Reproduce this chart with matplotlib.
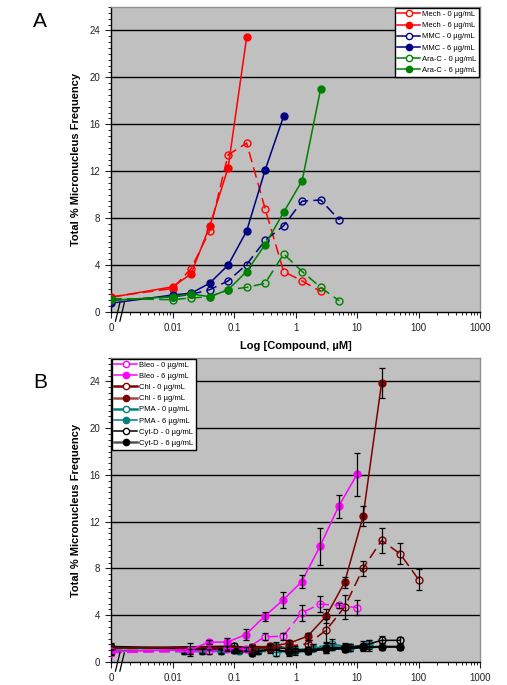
import numpy as np
import matplotlib
matplotlib.use("Agg")
import matplotlib.pyplot as plt
from matplotlib.lines import Line2D
from matplotlib.ticker import FixedLocator, LogLocator, NullFormatter, MultipleLocator

plt.rcParams['font.family'] = ['Liberation Sans', 'DejaVu Sans']

# ---------------- Panel A data ----------------
conc_a = [0, 0.01, 0.02, 0.04, 0.08, 0.16, 0.32, 0.64, 1.28, 2.56, 5.12]
mech_0 = [1.3, 2.0, 3.7, 6.9, 13.4, 14.4, 8.8, 3.45, 2.65, 1.75]
mech_6 = [1.25, 2.15, 3.25, 7.3, 12.3, 23.4]
mmc_0 = [1.0, 1.3, 1.5, 1.9, 2.65, 4.05, 6.1, 7.35, 9.45, 9.55, 7.85]
mmc_6 = [0.75, 1.45, 1.6, 2.45, 4.0, 6.9, 12.1, 16.7]
arac_0 = [1.15, 1.05, 1.2, 1.3, 1.9, 2.1, 2.45, 4.95, 3.45, 2.1, 0.95]
arac_6 = [1.0, 1.3, 1.55, 1.3, 1.9, 3.45, 5.75, 8.5, 11.2, 19.05]

# ---------------- Panel B data ----------------
conc_bleo = [0, 0.0195, 0.039, 0.078, 0.156, 0.3125, 0.625, 1.25, 2.5, 5, 10]
bleo_0 = [0.8, 0.9, 0.9, 1.15, 1.1, 2.15, 2.2, 4.2, 4.95, 4.85, 4.65]
bleo_0_err = [0.2, 0.2, 0.2, 0.2, 0.2, 0.3, 0.3, 0.7, 0.7, 0.2, 0.65]
bleo_6 = [0.9, 1.05, 1.7, 1.7, 2.35, 3.9, 5.3, 6.85, 9.9, 13.3, 16.05]
bleo_6_err = [0.2, 0.55, 0.2, 0.35, 0.45, 0.4, 0.65, 0.55, 1.6, 1.0, 1.85]

conc_chl = [0, 0.195, 0.39, 0.78, 1.5625, 3.125, 6.25, 12.5, 25, 50, 100]
chl_0 = [1.15, 1.2, 1.2, 1.35, 1.55, 2.7, 4.7, 8.0, 10.4, 9.25, 7.05]
chl_0_err = [0.15, 0.2, 0.2, 0.2, 0.3, 1.0, 1.0, 0.65, 1.05, 0.9, 0.9]
chl_6 = [1.2, 1.25, 1.35, 1.6, 2.2, 3.9, 6.8, 12.45, 23.85]
chl_6_err = [0.15, 0.2, 0.2, 0.3, 0.3, 0.6, 0.5, 0.85, 1.3]

conc_pma = [0, 0.0153, 0.0305, 0.061, 0.122, 0.244, 0.488, 0.977, 1.95, 3.9, 7.8, 15.6]
pma_0 = [0.9, 0.9, 0.9, 0.9, 0.95, 0.95, 0.8, 0.9, 1.2, 1.55, 1.25, 1.5]
pma_0_err = [0.2, 0.2, 0.2, 0.2, 0.2, 0.3, 0.3, 0.3, 0.3, 0.4, 0.3, 0.4]
pma_6 = [1.0, 1.0, 1.0, 1.0, 1.0, 1.05, 1.4, 1.05, 1.2, 1.3, 1.2, 1.4]
pma_6_err = [0.2, 0.2, 0.2, 0.2, 0.2, 0.3, 0.3, 0.3, 0.3, 0.3, 0.3, 0.5]

conc_cyt = [0, 0.098, 0.195, 0.39, 0.78, 1.5625, 3.125, 6.25, 12.5, 25, 50]
cyt_0 = [1.2, 1.35, 1.2, 1.3, 1.1, 1.0, 1.2, 1.25, 1.4, 1.85, 1.85]
cyt_0_err = [0.3, 0.3, 0.3, 0.3, 0.3, 0.3, 0.4, 0.4, 0.4, 0.4, 0.3]
cyt_6 = [1.3, 1.05, 0.8, 1.1, 0.85, 0.95, 1.1, 1.15, 1.25, 1.3, 1.3]
cyt_6_err = [0.3, 0.3, 0.3, 0.3, 0.3, 0.3, 0.3, 0.3, 0.3, 0.3, 0.3]

x_ticks = [0.001, 0.01, 0.1, 1, 10, 100, 1000]
x_tick_labels = ['0', '0.01', '0.1', '1', '10', '100', '1000']
y_ticks = [0, 4, 8, 12, 16, 20, 24]

ZERO_POS = 0.001


def xs(conc, n):
    return [ZERO_POS if c == 0 else c for c in conc[:n]]


RED = '#FF0000'
NAVY = '#000080'
GREEN = '#008000'
MAG = '#FF00FF'
MAROON = '#800000'
TEAL = '#008080'
BLACK = '#000000'
DASH = (0, (7, 3.5))


def style_axes(ax, xlabel=True):
    ax.set_facecolor('#C0C0C0')
    ax.set_xscale('log')
    ax.set_xlim(0.001, 1000)
    ax.set_ylim(0, 26)
    ax.xaxis.set_major_locator(FixedLocator(x_ticks))
    ax.set_xticklabels(x_tick_labels)
    ax.xaxis.set_minor_locator(LogLocator(base=10, subs=np.arange(2, 10), numticks=30))
    ax.xaxis.set_minor_formatter(NullFormatter())
    ax.yaxis.set_major_locator(FixedLocator(y_ticks))
    ax.yaxis.set_minor_locator(MultipleLocator(0.5))
    ax.tick_params(axis='both', which='major', labelsize=7, colors='#222222',
                   direction='out', length=4, width=0.8, pad=4)
    ax.tick_params(axis='both', which='minor', direction='out', length=2, width=0.6)
    for yv in y_ticks[1:]:
        ax.axhline(yv, color='black', lw=1.0, zorder=1)
    ax.spines['left'].set_color('black')
    ax.spines['bottom'].set_color('black')
    ax.spines['top'].set_color('#909090')
    ax.spines['right'].set_color('#909090')
    for s in ax.spines.values():
        s.set_linewidth(1.0)
    ax.set_ylabel('Total % Micronucleus Frequency', fontsize=8, fontweight='bold', labelpad=6)
    if xlabel:
        ax.set_xlabel('Log [Compound, \u00b5M]', fontsize=8, fontweight='bold', labelpad=6)
    # axis break marks
    for dx in (0.018, 0.030):
        ax.plot([dx - 0.006, dx + 0.006], [-0.03, 0.03], transform=ax.transAxes,
                color='black', lw=0.9, clip_on=False, zorder=6)


def line(ax, conc, vals, color, filled, dashed, err=None, lw=1.1, ms=5, z=3):
    x = xs(conc, len(vals))
    ax.plot(x, vals, color=color, lw=lw, linestyle=DASH if dashed else '-',
            marker='o', markersize=ms, markeredgewidth=1.0,
            markerfacecolor=color if filled else 'none', markeredgecolor=color, zorder=z)
    if err is not None:
        ax.errorbar(x, vals, yerr=err, fmt='none', ecolor='black', elinewidth=0.9,
                    capsize=2.0, capthick=0.9, zorder=z + 0.5)


fig = plt.figure(figsize=(5.07, 6.85), dpi=100)
axA = fig.add_axes([0.219, 0.5445, 0.728, 0.4453])
axB = fig.add_axes([0.219, 0.0336, 0.728, 0.4438])
style_axes(axA, xlabel=True)
style_axes(axB, xlabel=False)

# Panel A
line(axA, conc_a, mech_0, RED, False, True)
line(axA, conc_a, mech_6, RED, True, False)
line(axA, conc_a, mmc_0, NAVY, False, True)
line(axA, conc_a, mmc_6, NAVY, True, False)
line(axA, conc_a, arac_0, GREEN, False, True)
line(axA, conc_a, arac_6, GREEN, True, False)


def handle(color, filled, lw=1.1):
    return Line2D([], [], color=color, lw=lw, marker='o', markersize=4.5,
                  markerfacecolor=color if filled else 'white', markeredgecolor=color)


hA = [handle(RED, False), handle(RED, True), handle(NAVY, False), handle(NAVY, True),
      handle(GREEN, False), handle(GREEN, True)]
lA = ['Mech - 0 \u00b5g/mL', 'Mech - 6 \u00b5g/mL', 'MMC - 0 \u00b5g/mL', 'MMC - 6 \u00b5g/mL',
      'Ara-C - 0 \u00b5g/mL', 'Ara-C - 6 \u00b5g/mL']
legA = axA.legend(hA, lA, loc='upper right', fontsize=5.5, frameon=True, fancybox=False,
                  edgecolor='black', framealpha=1, handlelength=3.0, handletextpad=0.2,
                  borderpad=0.35, labelspacing=0.5, borderaxespad=0.15)
legA.get_frame().set_linewidth(1.0)

# Panel B
line(axB, conc_pma, pma_0, TEAL, False, True, pma_0_err, z=3)
line(axB, conc_pma, pma_6, TEAL, True, False, pma_6_err, z=3)
line(axB, conc_cyt, cyt_0, BLACK, False, False, cyt_0_err, z=3.2)
line(axB, conc_cyt, cyt_6, BLACK, True, False, cyt_6_err, lw=1.6, z=3.2)
line(axB, conc_chl, chl_0, MAROON, False, True, chl_0_err, z=4)
line(axB, conc_chl, chl_6, MAROON, True, False, chl_6_err, z=4)
line(axB, conc_bleo, bleo_0, MAG, False, True, bleo_0_err, z=5)
line(axB, conc_bleo, bleo_6, MAG, True, False, bleo_6_err, z=5)

hB = [handle(MAG, False), handle(MAG, True), handle(MAROON, False, 1.8),
      handle('#A04848', True, 1.8), handle(TEAL, False, 1.8), handle(TEAL, True, 1.1),
      handle(BLACK, False), handle('#555555', True, 1.8)]
hB[7].set_markerfacecolor('black'); hB[7].set_markeredgecolor('black')
hB[3].set_markerfacecolor(MAROON); hB[3].set_markeredgecolor(MAROON)
lB = ['Bleo - 0 \u00b5g/mL', 'Bleo - 6 \u00b5g/mL', 'Chl - 0 \u00b5g/mL', 'Chl - 6 \u00b5g/mL',
      'PMA - 0 \u00b5g/mL', 'PMA - 6 \u00b5g/mL', 'Cyt-D - 0 \u00b5g/mL', 'Cyt-D - 6 \u00b5g/mL']
legB = axB.legend(hB, lB, loc='upper left', fontsize=5.5, frameon=True, fancybox=False,
                  edgecolor='black', framealpha=1, handlelength=3.0, handletextpad=0.2,
                  borderpad=0.35, labelspacing=0.5, borderaxespad=0.1)
legB.get_frame().set_linewidth(1.0)

fig.text(0.065, 0.968, 'A', fontsize=15, ha='left', va='center')
fig.text(0.065, 0.441, 'B', fontsize=15, ha='left', va='center')

fig.savefig('out.png', dpi=100)
